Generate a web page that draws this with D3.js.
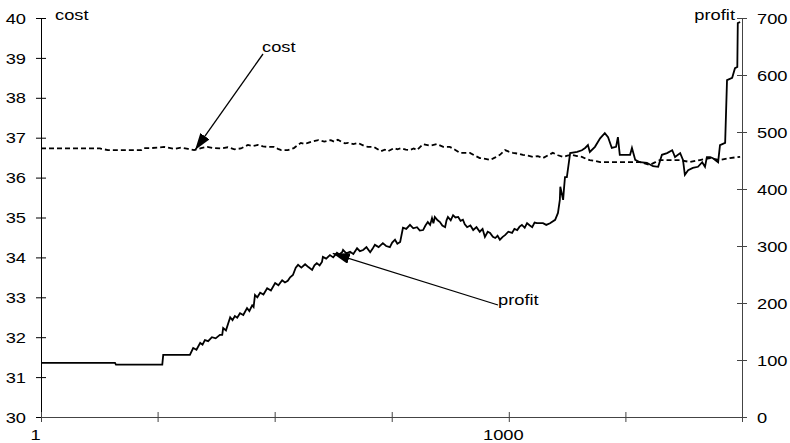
<!DOCTYPE html>
<html><head><meta charset="utf-8">
<script src="https://cdn.jsdelivr.net/npm/d3@7"></script>
<style>
body{margin:0;background:#fff}
text{font-family:"Liberation Sans",Arial,sans-serif;font-size:15px;fill:#000}
</style>
</head><body><svg id="c" width="790" height="443"></svg>
<script>
// ---- data ----
const profitX = [1,159,161,260,262,319,326,333,341,346,
351,358,366,374,383,388,390,396,405,410,
415,420,426,433,441,446,452,455,458,463,
469,476,484,492,501,508,516,522,528,533,
539,545,550,557,565,572,580,585,590,596,
601,603,610,618,625,633,638,644,646,653,
661,668,676,682,689,696,704,709,714,722,
731,738,746,751,757,762,768,774,781,789,
796,804,810,817,822,827,832,836,839,842,
848,853,858,864,867,870,876,881,886,892,
897,902,906,911,918,924,931,938,944,949,
955,960,966,971,976,981,987,992,999,1007,
1012,1018,1023,1028,1034,1039,1045,1050,1055,1060,
1073,1080,1088,1099,1105,1109,1110,1116,1118,1120,
1124,1131,1146,1156,1163,1169,1173,1184,1195,1205,
1212,1220,1229,1233,1237,1259,1263,1270,1280,1295,
1308,1319,1327,1338,1349,1355,1366,1372,1376,1383,
1393,1404,1413,1419,1423,1430,1436,1447,1451,1462,
1466,1477,1483,1488,1489,1494];
const profitV = [95,95,92,92,109,109,121,118,130,127,
135,133,140,138,144,144,156,152,175,170,
177,174,182,179,191,186,196,193,214,210,
218,215,226,222,235,231,240,236,239,245,
249,262,267,262,268,263,258,266,270,266,
272,281,278,284,280,288,285,289,293,287,
290,286,296,291,293,298,289,295,302,298,
305,300,298,306,311,304,307,332,330,337,
331,333,327,328,336,342,337,349,340,351,
345,342,336,333,345,351,345,354,350,351,
344,346,338,333,336,328,333,325,330,316,
325,323,316,314,318,311,316,319,325,323,
330,328,334,337,332,340,336,333,341,340,
340,337,340,346,358,381,404,381,402,421,
421,463,465,468,472,477,465,474,489,498,
491,472,474,491,460,460,472,451,447,446,
440,439,460,463,468,456,463,451,425,433,
437,439,447,439,456,456,454,447,477,481,
591,595,612,614,691,693];
const costX = [1,127,130,144,215,221,236,250,264,285,
300,315,328,343,356,370,385,400,414,428,
443,454,464,475,486,499,507,514,528,541,
548,556,564,571,582,593,606,620,627,635,
642,650,657,668,678,690,699,712,720,727,
735,742,755,762,770,780,789,797,804,817,
832,847,860,874,885,896,917,928,938,950,
960,970,981,992,1000,1009,1020,1030,1041,1052,
1062,1073,1084,1094,1105,1116,1125,1135,1146,1156,
1165,1173,1184,1195,1216,1237,1259,1280,1301,1312,
1323,1344,1366,1387,1408,1430,1451,1472,1494];
const costV = [36.73,36.73,36.72,36.69,36.69,36.74,36.74,36.75,36.77,36.72,
36.75,36.72,36.69,36.74,36.77,36.74,36.73,36.76,36.71,36.73,
36.82,36.79,36.82,36.78,36.77,36.77,36.72,36.69,36.69,36.74,
36.80,36.87,36.84,36.87,36.91,36.94,36.90,36.94,36.90,36.95,
36.90,36.86,36.87,36.84,36.87,36.80,36.77,36.77,36.71,36.66,
36.70,36.66,36.74,36.71,36.74,36.70,36.69,36.73,36.69,36.84,
36.80,36.84,36.77,36.77,36.70,36.62,36.62,36.55,36.49,36.47,
36.44,36.50,36.57,36.69,36.65,36.62,36.60,36.57,36.55,36.52,
36.54,36.49,36.56,36.62,36.56,36.52,36.55,36.57,36.54,36.52,
36.47,36.44,36.42,36.39,36.39,36.39,36.39,36.39,36.32,36.38,
36.44,36.44,36.44,36.39,36.44,36.49,36.44,36.49,36.52];
const costTicks = [30,31,32,33,34,35,36,37,38,39,40];
const profitTicks = [0,100,200,300,400,500,600,700];
const xTicks = [1,250,500,750,1000,1249,1498];
const xTickLabels = ["1","","","","1000","",""];
const annotations = [
  {name:"cost", series:"cost", x:330, v:36.69},
  {name:"profit", series:"profit", x:624, v:287}
];

// ---- layout ----
const L = 41, R = 742, T = 18, B = 417, SX = 1.22;
const svg = d3.select("#c");
const x = d3.scaleLinear().domain([1,1498]).range([L,R]);
const yL = d3.scaleLinear().domain([30,40]).range([B,T]);
const yR = d3.scaleLinear().domain([0,700]).range([B,T]);

function txt(px,py,s,anchor){
  return svg.append("text").attr("transform",`translate(${px},${py}) scale(${SX},1)`)
    .attr("text-anchor",anchor||"start").text(s);
}

// left axis
const gL = svg.append("g").attr("transform",`translate(${L},0)`)
  .call(d3.axisLeft(yL).tickValues(costTicks).tickSize(5).tickSizeOuter(0));
gL.selectAll(".tick line").attr("x1",5).attr("stroke","#000");
gL.selectAll(".tick text").attr("x",0).attr("dy","0.34em").attr("transform",`translate(-15,0) scale(${SX},1)`).style("font-size","15px").style("font-family",null);
gL.select(".domain").attr("stroke","#000");

// right axis
const gR = svg.append("g").attr("transform",`translate(${R},0)`)
  .call(d3.axisRight(yR).tickValues(profitTicks).tickSize(5).tickSizeOuter(0));
gR.selectAll(".tick line").attr("x1",-5).attr("stroke","#444");
gR.selectAll(".tick text").attr("x",0).attr("dy","0.34em").attr("transform",`translate(15,0) scale(${SX},1)`).style("font-size","15px").style("font-family",null);
gR.select(".domain").attr("stroke","#444");

// bottom axis
const gB = svg.append("g").attr("transform",`translate(0,${B})`)
  .call(d3.axisBottom(x).tickValues(xTicks).tickSize(5).tickSizeOuter(0).tickFormat((d,i)=>xTickLabels[i]));
gB.selectAll(".tick line").attr("y1",-5).attr("stroke","#444");
gB.selectAll(".tick text").attr("y",0).attr("dy","0.71em").attr("transform",`translate(-6,12) scale(${SX},1)`).style("font-size","15px").style("font-family",null);
gB.select(".domain").attr("stroke","#444");

// axis titles
txt(55,20,"cost");
txt(735,20,"profit","end");

// lines
const costLine = d3.line().x((d,i)=>x(costX[i])).y(d=>yL(d));
const profitLine = d3.line().x((d,i)=>x(profitX[i])).y(d=>yR(d));
svg.append("path").attr("d",costLine(costV)).attr("fill","none").attr("stroke","#000")
  .attr("stroke-width",1.8).attr("stroke-dasharray","5,3");
svg.append("path").attr("d",profitLine(profitV)).attr("fill","none").attr("stroke","#000")
  .attr("stroke-width",1.8).attr("stroke-linejoin","miter");

// annotations
svg.append("defs").append("marker").attr("id","ah").attr("markerUnits","userSpaceOnUse")
  .attr("markerWidth",17).attr("markerHeight",11).attr("refX",17).attr("refY",5.5).attr("orient","auto")
  .append("path").attr("d","M0,0 L17,5.5 L0,11 Z").attr("fill","#000");
const annoText = {cost:{tx:262,ty:52,lx:263,ly:54}, profit:{tx:498,ty:305,lx:498,ly:305}};
annotations.forEach(a=>{
  const p = annoText[a.name];
  const tipX = x(a.x), tipY = a.series==="cost" ? yL(a.v) : yR(a.v);
  svg.append("line").attr("x1",p.lx).attr("y1",p.ly).attr("x2",tipX).attr("y2",tipY)
    .attr("stroke","#000").attr("stroke-width",1.3).attr("marker-end","url(#ah)");
  txt(p.tx,p.ty,a.name);
});
</script>
</body></html>
